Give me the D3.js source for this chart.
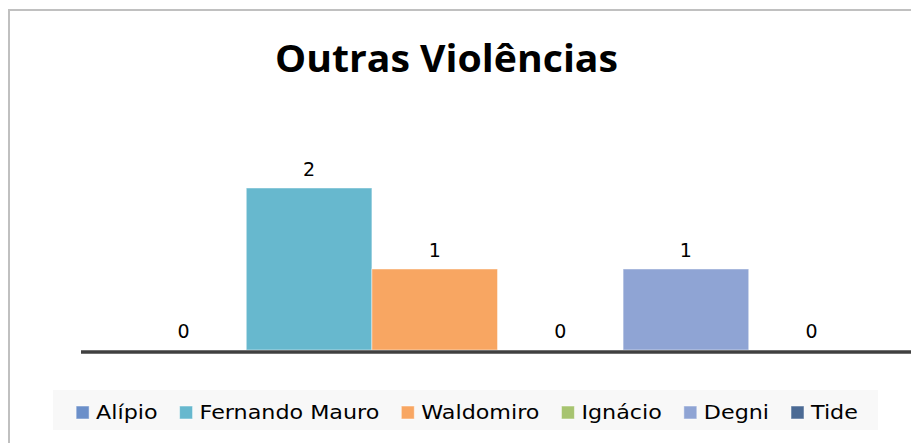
<!DOCTYPE html>
<html>
<head>
<meta charset="utf-8">
<script src="https://cdn.jsdelivr.net/npm/d3@7"></script>
<style>
  body { margin: 0; background: #fff; }
</style>
</head>
<body>
<div id="chart"></div>
<script>
const title = "Outras Violências";
const series = ["Alípio", "Fernando Mauro", "Waldomiro", "Ignácio", "Degni", "Tide"];
const values = [0, 2, 1, 0, 1, 0];
const colors = ["#6b8fc9", "#67b8ce", "#f8a662", "#a7c470", "#8fa4d4", "#4b6a94"];

const W = 911, H = 443;

const svg = d3.select("#chart")
  .append("svg")
  .attr("width", W)
  .attr("height", H);

// chart frame (only top/left edge visible in the crop)
svg.append("rect")
  .attr("x", 9)
  .attr("y", 10)
  .attr("width", W + 20)
  .attr("height", H + 20)
  .attr("fill", "#fff")
  .attr("stroke", "#c0c0c0")
  .attr("stroke-width", 2);

svg.append("text")
  .attr("x", 446.5)
  .attr("y", 72)
  .attr("text-anchor", "middle")
  .attr("textLength", 343)
  .attr("lengthAdjust", "spacingAndGlyphs")
  .style("font-family", "'Open Sans', sans-serif")
  .style("font-weight", "bold")
  .style("font-size", "37px")
  .text(title);

const x = d3.scaleBand()
  .domain(series)
  .range([83, 912])
  .paddingInner(0)
  .paddingOuter(0.3);

const y = d3.scaleLinear()
  .domain([0, 2])
  .range([350, 188]);

const color = d3.scaleOrdinal()
  .domain(series)
  .range(colors);

const data = series.map((s, i) => ({ key: s, value: values[i] }));

svg.append("g")
  .selectAll("rect")
  .data(data)
  .join("rect")
  .attr("x", d => x(d.key))
  .attr("y", d => y(d.value))
  .attr("width", x.bandwidth())
  .attr("height", d => y(0) - y(d.value))
  .attr("fill", d => color(d.key))
  .attr("stroke", "rgba(255,255,255,0.45)")
  .attr("stroke-width", 1);

// category axis line
svg.append("line")
  .attr("x1", 81)
  .attr("x2", 911)
  .attr("y1", y(0) + 2)
  .attr("y2", y(0) + 2)
  .attr("stroke", "#404040")
  .attr("stroke-width", 3.5);

svg.append("g")
  .selectAll("text")
  .data(data)
  .join("text")
  .attr("x", d => x(d.key) + x.bandwidth() / 2)
  .attr("y", d => y(d.value) - 12.5)
  .attr("text-anchor", "middle")
  .style("font-family", "'DejaVu Sans', sans-serif")
  .style("font-size", "19px")
  .attr("fill", "#000")
  .text(d => d.value);

// legend
svg.append("rect")
  .attr("x", 53)
  .attr("y", 390)
  .attr("width", 825)
  .attr("height", 40)
  .attr("fill", "#f8f8f8");

const legend = svg.append("g");
const size = 13;
const stretch = 1.17;
let cx = 0;
series.forEach(function (s) {
  const item = legend.append("g").attr("transform", `translate(${cx},0)`);
  item.append("rect")
    .attr("x", 0)
    .attr("y", 406)
    .attr("width", size)
    .attr("height", size)
    .attr("fill", color(s))
    .attr("stroke", "rgba(255,255,255,0.5)");
  const t = item.append("text")
    .attr("x", size + 7)
    .attr("y", 419)
    .style("font-family", "'DejaVu Sans', sans-serif")
    .style("font-size", "19px")
    .attr("fill", "#000")
    .text(s);
  const w = t.node().getComputedTextLength() * stretch;
  t.attr("textLength", w).attr("lengthAdjust", "spacingAndGlyphs");
  cx += size + 7 + w + 22;
});
const legendWidth = cx - 22;
legend.attr("transform", `translate(${467 - legendWidth / 2},0)`);
</script>
</body>
</html>
